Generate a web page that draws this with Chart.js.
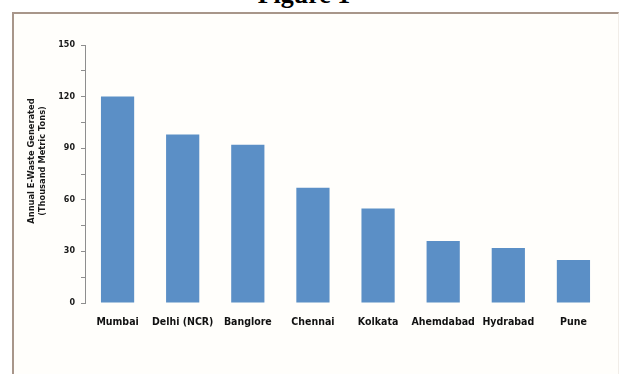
<!DOCTYPE html>
<html lang="en">
<head>
  <meta charset="UTF-8" />
  <title>Figure 1</title>
  <script src="https://cdn.jsdelivr.net/npm/chart.js"></script>
  <style>
    body { margin: 0; background: #fff; overflow: hidden; }
    .page { position: relative; width: 620px; height: 374px; }
    .caption { position: absolute; left: 0; width: 608px; top: -18px; text-align: center;
               font: bold 26px/26px "Liberation Serif", "Times New Roman", serif; color: #000; }
    .frame { position: absolute; left: 12px; top: 12px; width: 604px; height: 380px;
             border-left: 2px solid #a8968a; border-top: 2px solid #a8968a; border-right: 1px solid #f1ede8;
             background: #fffefb; }
    canvas { position: absolute; left: 0; top: 0; }
  </style>
</head>
<body>
  <div class="page">
    <div class="caption">Figure 1</div>
    <div class="frame"></div>
    <canvas id="wasteChart" width="620" height="374"></canvas>
  </div>

  <script>
    const cities = ["Mumbai", "Delhi (NCR)", "Banglore", "Chennai", "Kolkata", "Ahemdabad", "Hydrabad", "Pune"];
    const eWaste = [120, 98, 92, 67, 55, 36, 32, 25];
    const yTitle = ["Annual E-Waste Generated", "(Thousand Metric Tons)"];

    // two-line rotated y title, centred a bit above the middle of the axis
    const yTitlePlugin = {
      id: "yTitle",
      afterDraw(chart) {
        const ctx = chart.ctx;
        ctx.save();
        ctx.font = "bold 8.3px 'DejaVu Sans', Verdana, sans-serif";
        ctx.fillStyle = "#1a1a1a";
        ctx.textAlign = "center";
        ctx.textBaseline = "middle";
        ctx.translate(32, 161);
        ctx.rotate(-Math.PI / 2);
        yTitle.forEach((line, i) => ctx.fillText(line, 0, i * 11));
        ctx.restore();
      }
    };

    new Chart(document.getElementById("wasteChart"), {
      type: "bar",
      data: {
        labels: cities,
        datasets: [{
          data: eWaste,
          backgroundColor: "#5b8fc6",
          categoryPercentage: 1,
          barPercentage: 0.51
        }]
      },
      options: {
        responsive: false,
        animation: false,
        layout: { autoPadding: false, padding: { top: 45, right: 14, bottom: 41, left: 0 } },
        plugins: { legend: { display: false }, tooltip: { enabled: false } },
        scales: {
          x: {
            grid: { display: false },
            border: { display: false },
            ticks: {
              padding: 5,
              color: "#111",
              maxRotation: 0,
              autoSkip: false,
              font: { family: "'DejaVu Sans Condensed', 'Liberation Sans Narrow', sans-serif", size: 10.5, weight: "bold" }
            },
            afterFit(scale) { scale.height = 30; }
          },
          y: {
            min: 0,
            max: 150,
            grid: { drawOnChartArea: false, tickLength: 4, color: "#8e8e8e" },
            border: { color: "#8e8e8e" },
            ticks: {
              stepSize: 15,
              padding: 6,
              color: "#1a1a1a",
              font: { family: "'DejaVu Sans', Verdana, sans-serif", size: 8, weight: "bold" },
              callback: v => (v % 30 === 0 ? v : "")
            },
            afterFit(scale) { scale.width = 85; }
          }
        }
      },
      plugins: [yTitlePlugin]
    });
  </script>
</body>
</html>
